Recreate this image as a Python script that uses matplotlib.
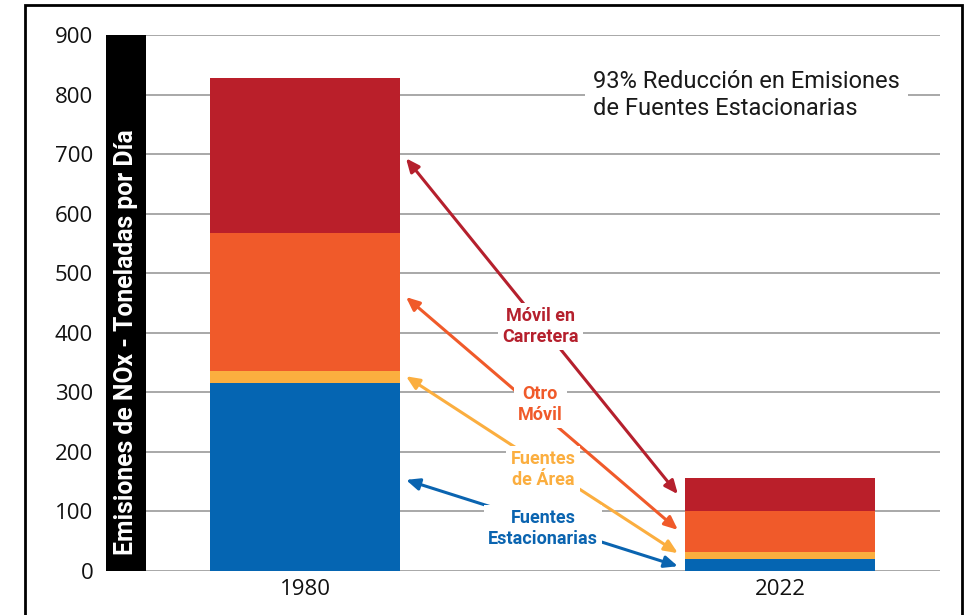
import matplotlib
matplotlib.use("Agg")
import matplotlib.pyplot as plt
from matplotlib.patches import Rectangle
import numpy as np

years = ["1980", "2022"]
stationary = [316, 20]
area = [20, 12]
other_mobile = [232, 68]
on_road = [260, 56]
yticks = [0, 100, 200, 300, 400, 500, 600, 700, 800, 900]

colors = {
    "stationary": "#0565B2",
    "area": "#FBAE3F",
    "other": "#F05A2A",
    "onroad": "#BA1F2A",
}

W, H = 969, 615
fig = plt.figure(figsize=(W / 100, H / 100), dpi=100)
ax = fig.add_axes([146 / W, 1 - 571 / H, (940 - 146) / W, (571 - 35) / H])

x = np.arange(len(years))
bw = 0.4
b = np.zeros(len(years))
for vals, key in [(stationary, "stationary"), (area, "area"), (other_mobile, "other"), (on_road, "onroad")]:
    ax.bar(x, vals, bw, bottom=b, color=colors[key], zorder=2, linewidth=0)
    b = b + np.array(vals)

ax.set_xlim(-0.3347, 1.3368)
ax.set_ylim(0, 900)
ax.set_yticks(yticks)
ax.set_xticks(x)
ax.set_xticklabels(years)
for s in ax.spines.values():
    s.set_visible(False)
ax.tick_params(axis="y", length=0, pad=38, labelsize=16)
ax.tick_params(axis="x", length=0, pad=6, labelsize=16)
for lab in ax.get_yticklabels() + ax.get_xticklabels():
    lab.set_fontfamily("Open Sans")
    lab.set_color("#111111")
for yv in yticks:
    ax.axhline(yv, color="#9a9a9a", lw=1.2, zorder=1)

# black y-label bar
ax.add_patch(Rectangle((-40 / 794, 0), 40 / 794, 900, transform=ax.get_yaxis_transform(),
                       facecolor="black", edgecolor="none", clip_on=False, zorder=3))
ax.text(-20 / 794, 384, "Emisiones de NOx - Toneladas por Día", transform=ax.get_yaxis_transform(),
        rotation=90, ha="center", va="center", color="white", fontsize=17.8, fontweight="bold",
        family="Roboto", zorder=4)

# headline
ax.text(0.606, 799, "93% Reducción en Emisiones\nde Fuentes Estacionarias", ha="left", va="center",
        fontsize=17, family="Roboto", color="#1a1a1a", linespacing=1.25, zorder=5,
        bbox=dict(facecolor="white", edgecolor="none", pad=6))

# annotations
ann = [
    ("Móvil en\nCarretera", "#B5202D", (0.2126, 693), (0.785, 129), (0.495, 410)),
    ("Otro\nMóvil", "#F05A2A", (0.2126, 460), (0.785, 69), (0.495, 279)),
    ("Fuentes\nde Área", "#FBAE3F", (0.2126, 327), (0.785, 30), (0.501, 170)),
    ("Fuentes\nEstacionarias", "#0A64B0", (0.2126, 153), (0.785, 8), (0.501, 72)),
]
for label, col, p1, p2, pt in ann:
    ax.annotate("", xy=p1, xytext=p2,
                arrowprops=dict(arrowstyle="<|-|>,head_length=0.8,head_width=0.35", color=col, lw=2.2,
                                shrinkA=0, shrinkB=0), zorder=4)
    ax.text(pt[0], pt[1], label, ha="center", va="center", color=col, fontsize=13,
            fontweight="bold", family="Roboto", linespacing=1.2, zorder=6,
            bbox=dict(facecolor="white", edgecolor="none", pad=3))

# figure border
fig.patches.append(Rectangle((25 / W, -0.05), (962 - 25) / W, 1.05 - 5 / H, transform=fig.transFigure,
                             fill=False, edgecolor="black", lw=2))

fig.savefig("out.png", dpi=100)
